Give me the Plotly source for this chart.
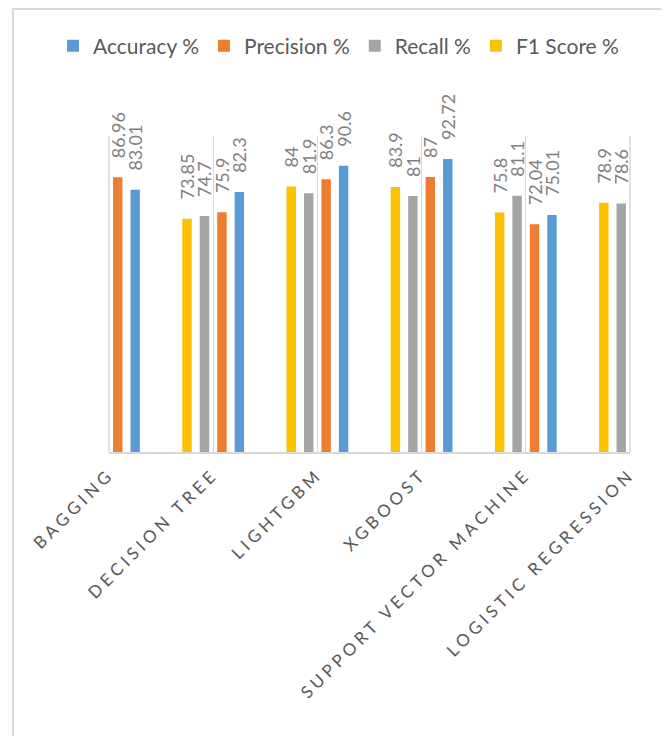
import plotly.graph_objects as go

categories = ["Bagging", "Decision Tree", "LightGBM", "XGBoost",
              "Support Vector Machine", "Logistic Regression"]
tick_labels = ["BAGGING", "DECISION TREE", "LIGHTGBM", "XGBOOST",
               "SUPPORT VECTOR MACHINE", "LOGISTIC REGRESSION"]

accuracy = [83.01, 82.3, 90.6, 92.72, 75.01, None]
precision = [86.96, 75.9, 86.3, 87, 72.04, None]
recall = [None, 74.7, 81.9, 81, 81.1, 78.6]
f1_score = [None, 73.85, 84, 83.9, 75.8, 78.9]

series = [
    ("F1 Score %", f1_score, "#FFC000"),
    ("Recall %", recall, "#A5A5A5"),
    ("Precision %", precision, "#ED7D31"),
    ("Accuracy %", accuracy, "#5B9BD5"),
]

FONT = "Lato, Carlito, Calibri, sans-serif"
PAD = "\u00a0" * 3 + "\u2009"

# the page body has an 8px default margin; the figure is sized to fit inside the window
W, H = 661, 728
L, T, PW, PH = 101, 128, 521, 316

fig = go.Figure()
for name, vals, color in series:
    fig.add_trace(go.Bar(
        name=name,
        x=categories,
        y=vals,
        marker=dict(color=color, line=dict(width=0)),
        text=[PAD + f"{v:g}" if v is not None else "" for v in vals],
        textposition="outside",
        textangle=-90,
        constraintext="none",
        cliponaxis=False,
        textfont=dict(family=FONT, size=18, color="#7F7F7F"),
        hoverinfo="skip",
    ))

fig.update_layout(
    width=W,
    height=H,
    barmode="group",
    bargap=0.33,
    bargroupgap=0.46,
    paper_bgcolor="white",
    plot_bgcolor="white",
    margin=dict(l=L, r=W - L - PW, t=T, b=H - T - PH, autoexpand=False),
    font=dict(family=FONT, color="#595959"),
    legend=dict(
        orientation="h",
        traceorder="reversed",
        x=(45 - L) / PW, xanchor="left",
        y=(T + PH - 38) / PH, yanchor="middle",
        font=dict(family=FONT, size=21, color="#595959"),
        itemclick=False,
        bgcolor="rgba(0,0,0,0)",
    ),
    showlegend=True,
)

fig.update_xaxes(
    type="category",
    range=[0, 5],
    tickvals=categories,
    ticktext=[f'<span style="letter-spacing:4px">{t}</span>' for t in tick_labels],
    tickangle=-45,
    tickfont=dict(family=FONT, size=17, color="#595959"),
    ticklabelstandoff=4,
    showgrid=True,
    gridcolor="#D9D9D9",
    gridwidth=1,
    showline=True,
    linecolor="#D9D9D9",
    linewidth=1.5,
    ticks="",
    fixedrange=True,
)
fig.update_yaxes(
    range=[0, 100],
    visible=False,
    showgrid=False,
    zeroline=False,
    fixedrange=True,
)

# vertical gridlines at the two plot edges (plotly drops edge gridlines)
for xe in (0, 1):
    fig.add_shape(
        type="line", xref="paper", yref="paper",
        x0=xe, x1=xe, y0=0, y1=1,
        line=dict(color="#D9D9D9", width=1.5),
        layer="below",
    )

# outer chart frame
fig.add_shape(
    type="rect", xref="paper", yref="paper",
    x0=(5 - L) / PW, x1=(656 - L) / PW,
    y0=(T + PH - 740) / PH, y1=(T + PH - 1) / PH,
    line=dict(color="#D9D9D9", width=2),
    fillcolor="rgba(0,0,0,0)",
    layer="below",
)

fig.write_html("out.html")
